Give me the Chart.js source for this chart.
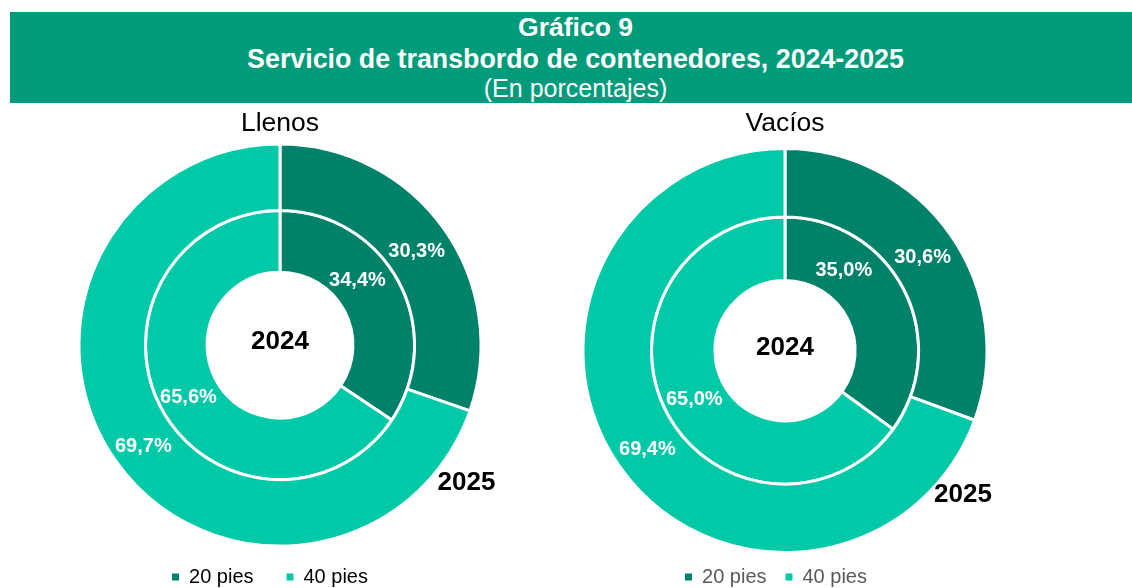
<!DOCTYPE html>
<html>
<head>
<meta charset="utf-8">
<script src="https://cdn.jsdelivr.net/npm/chart.js@4/dist/chart.umd.min.js"></script>
<style>
  html, body { margin: 0; padding: 0; background: #fff; overflow: hidden; }
  body { width: 1132px; height: 588px; position: relative; font-family: "Liberation Sans", Arial, sans-serif; }
  .banda { position: absolute; left: 10px; top: 12px; width: 1131px; height: 91px; background: #009b7a; }
  .linea { position: absolute; left: 10px; width: 1131px; height: 30px; line-height: 30px; text-align: center; color: #fff; }
  .caja { position: absolute; }
</style>
</head>
<body>
<div class="banda"></div>
<div class="linea" style="top:12px;font-size:26.5px;font-weight:bold">Gráfico 9</div>
<div class="linea" style="top:44px;font-size:26.8px;font-weight:bold">Servicio de transbordo de contenedores, 2024-2025</div>
<div class="linea" style="top:73px;font-size:25px">(En porcentajes)</div>

<div class="caja" style="left:30px;top:104px;width:500px;height:493px"><canvas id="llenos"></canvas></div>
<div class="caja" style="left:535px;top:104px;width:500px;height:493px"><canvas id="vacios"></canvas></div>

<script>
// datos
var categorias = ['20 pies', '40 pies'];
var anioExterior = '2025';
var anioInterior = '2024';
var llenos2025 = [30.3, 69.7];
var llenos2024 = [34.4, 65.6];
var vacios2025 = [30.6, 69.4];
var vacios2024 = [35.0, 65.0];

var colores = ['#00816a', '#00c9a8'];
var fuente = '"Liberation Sans", Arial, sans-serif';

Chart.defaults.font.family = fuente;

function fmt(v) {
    return v.toFixed(1).replace('.', ',') + '%';
}

// etiquetas de porcentaje y años
var etiquetas = {
    id: 'etiquetas',
    afterLayout: function(chart, args, opts) {
        // la leyenda del original va un poco a la izquierda del centro
        if (chart.legend && opts.leyendaX) {
            chart.legend.left += opts.leyendaX;
            chart.legend.right += opts.leyendaX;
        }
    },
    afterDatasetsDraw: function(chart, args, opts) {
        var ctx = chart.ctx;
        ctx.save();
        ctx.textAlign = 'center';
        ctx.textBaseline = 'middle';
        ctx.fillStyle = '#fff';
        ctx.font = 'bold 20px ' + fuente;
        chart.data.datasets.forEach(function(ds, d) {
            chart.getDatasetMeta(d).data.forEach(function(arc, i) {
                var p = arc.getProps(['x', 'y', 'startAngle', 'endAngle', 'innerRadius', 'outerRadius'], true);
                var f = (opts.fraccion && opts.fraccion[d + '-' + i]) || 0.5;
                var a = p.startAngle + (p.endAngle - p.startAngle) * f;
                var r = (p.innerRadius + p.outerRadius) / 2;
                ctx.fillText(fmt(ds.data[i]), p.x + Math.cos(a) * r, p.y + Math.sin(a) * r + opts.dy);
            });
        });
        var arc0 = chart.getDatasetMeta(0).data[0];
        var c = arc0.getProps(['x', 'y', 'outerRadius'], true);
        ctx.fillStyle = '#000';
        ctx.font = 'bold 26px ' + fuente;
        ctx.fillText(chart.data.datasets[1].label, c.x, c.y - 3);
        var ang = (opts.angulo - 90) * Math.PI / 180;
        var dist = c.outerRadius + opts.distancia;
        ctx.fillText(chart.data.datasets[0].label, c.x + Math.cos(ang) * dist, c.y + Math.sin(ang) * dist);
        ctx.restore();
    }
};

function dona(id, titulo, exterior, interior, cfg) {
    return new Chart(document.getElementById(id), {
        type: 'doughnut',
        data: {
            labels: categorias,
            datasets: [{
                    label: anioExterior,
                    data: exterior,
                    backgroundColor: colores,
                    borderColor: '#fff',
                    borderWidth: 3,
                    weight: 69
                },
                {
                    label: anioInterior,
                    data: interior,
                    backgroundColor: colores,
                    borderColor: '#fff',
                    borderWidth: 3,
                    weight: 64
                }
            ]
        },
        options: {
            responsive: true,
            maintainAspectRatio: false,
            animation: false,
            radius: cfg.radio,
            cutout: 68,
            layout: { padding: 0 },
            plugins: {
                title: {
                    display: true,
                    text: titulo,
                    color: '#000',
                    font: { size: 26.5, weight: 'normal' },
                    padding: { top: 3.5, bottom: cfg.tituloAbajo }
                },
                legend: {
                    position: 'bottom',
                    labels: {
                        color: cfg.colorLeyenda,
                        font: { size: 20 },
                        usePointStyle: true,
                        pointStyle: 'rect',
                        boxWidth: 7,
                        boxHeight: 7,
                        padding: cfg.pad,
                        generateLabels: function(chart) {
                            return Chart.overrides.doughnut.plugins.legend.labels.generateLabels(chart).map(function(l) {
                                l.lineWidth = 0;
                                l.strokeStyle = 'rgba(0,0,0,0)';
                                return l;
                            });
                        }
                    }
                },
                tooltip: { enabled: false },
                etiquetas: cfg.etiquetas
            }
        },
        plugins: [etiquetas]
    });
}

dona('llenos', 'Llenos', llenos2025, llenos2024, {
    radio: 201,
    tituloAbajo: 16.9,
    pad: 33,
    colorLeyenda: '#000',
    etiquetas: { fraccion: { '1-0': 0.39 }, angulo: 126.5, distancia: 31, dy: 4, leyendaX: -10 }
});

dona('vacios', 'Vacíos', vacios2025, vacios2024, {
    radio: 202,
    tituloAbajo: 13.9,
    pad: 19,
    colorLeyenda: '#595959',
    etiquetas: { fraccion: { '1-0': 0.28 }, angulo: 129, distancia: 27, dy: 3, leyendaX: -9 }
});
</script>
</body>
</html>
